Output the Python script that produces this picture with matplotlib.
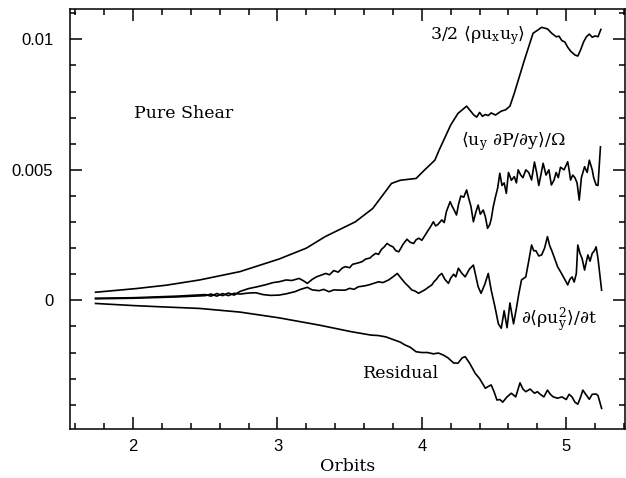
import matplotlib
matplotlib.use("Agg")
import matplotlib.pyplot as plt
from matplotlib.ticker import MultipleLocator

plt.rcParams['mathtext.fontset'] = 'custom'
plt.rcParams['mathtext.rm'] = 'DejaVu Serif'
plt.rcParams['mathtext.default'] = 'regular'
plt.rcParams['font.family'] = 'DejaVu Serif'

# 3/2 <rho ux uy>
stress_t = [1.74, 2.02, 2.23, 2.46, 2.74, 3.01, 3.2, 3.33, 3.54, 3.66, 3.79, 3.85,
            3.96, 4.02, 4.09, 4.12, 4.2, 4.25, 4.31, 4.36, 4.38, 4.4, 4.42, 4.44,
            4.46, 4.48, 4.51, 4.55, 4.58, 4.61, 4.64, 4.71, 4.77, 4.83, 4.87, 4.9,
            4.93, 4.95, 4.97, 4.99, 5.01, 5.03, 5.06, 5.08, 5.1, 5.12, 5.14, 5.16,
            5.18, 5.2, 5.22, 5.24]
stress = [0.00031, 0.00045, 0.00058, 0.00078, 0.0011, 0.00158, 0.002, 0.00244,
          0.00301, 0.00352, 0.00448, 0.0046, 0.00467, 0.005, 0.00537, 0.00576,
          0.00672, 0.00716, 0.00744, 0.0071, 0.00702, 0.0072, 0.00705, 0.00712,
          0.00708, 0.00718, 0.0071, 0.00725, 0.0073, 0.00744, 0.00793, 0.0092,
          0.01023, 0.01046, 0.0104, 0.01023, 0.0101, 0.01012, 0.00995, 0.0099,
          0.0097, 0.00955, 0.0094, 0.00936, 0.0096, 0.0099, 0.0101, 0.0102,
          0.01008, 0.01013, 0.0101, 0.01038]

# <uy dP/dy>/Omega
press_t = [1.74, 2.0, 2.3, 2.5, 2.54, 2.58, 2.62, 2.66, 2.7, 2.74, 2.8, 2.86,
           2.92, 2.97, 3.01, 3.06, 3.1, 3.15, 3.18, 3.207, 3.24, 3.27, 3.3, 3.334,
           3.36, 3.39, 3.42, 3.45, 3.47, 3.5, 3.52, 3.55, 3.586, 3.61, 3.64, 3.66,
           3.68, 3.7, 3.72, 3.74, 3.759, 3.78, 3.8, 3.82, 3.84, 3.86, 3.87, 3.897,
           3.92, 3.943, 3.96, 3.98, 4.0, 4.023, 4.04, 4.06, 4.08, 4.095, 4.11,
           4.138, 4.155, 4.17, 4.196, 4.21, 4.22, 4.24, 4.255, 4.27, 4.29, 4.31,
           4.325, 4.34, 4.357, 4.375, 4.39, 4.405, 4.425, 4.44, 4.455, 4.47, 4.48,
           4.495, 4.51, 4.525, 4.54, 4.555, 4.57, 4.585, 4.6, 4.62, 4.64, 4.655,
           4.667, 4.685, 4.7, 4.72, 4.74, 4.76, 4.78, 4.795, 4.81, 4.84, 4.86,
           4.88, 4.897, 4.915, 4.93, 4.945, 4.96, 4.985, 5.01, 5.02, 5.03, 5.045,
           5.06, 5.075, 5.09, 5.105, 5.127, 5.145, 5.16, 5.18, 5.19, 5.207, 5.22,
           5.237]
press = [0.00008, 0.0001, 0.00016, 0.00022, 0.00016, 0.00026, 0.00018, 0.00028,
         0.0002, 0.00034, 0.00045, 0.00052, 0.0006, 0.00068, 0.00071, 0.00078,
         0.00076, 0.00084, 0.00075, 0.00065, 0.0008, 0.0009, 0.00096, 0.00103,
         0.00098, 0.00114, 0.00108, 0.00124, 0.00129, 0.00125, 0.00138, 0.00142,
         0.00148, 0.00158, 0.00162, 0.00172, 0.0018, 0.00176, 0.00195, 0.00205,
         0.00218, 0.0021, 0.00205, 0.0019, 0.00186, 0.00205, 0.00215, 0.00234,
         0.00222, 0.00218, 0.00232, 0.00238, 0.0023, 0.0025, 0.00265, 0.00282,
         0.00301, 0.00285, 0.0029, 0.00308, 0.00298, 0.0034, 0.00378, 0.0036,
         0.0035, 0.00327, 0.0037, 0.004, 0.00395, 0.00423, 0.0039, 0.0036,
         0.00301, 0.0034, 0.00365, 0.0033, 0.00346, 0.0032, 0.00276, 0.0029,
         0.0031, 0.0036, 0.00397, 0.0043, 0.00487, 0.0044, 0.0045, 0.0041,
         0.0049, 0.0046, 0.00474, 0.0045, 0.005, 0.0048, 0.0047, 0.005, 0.0049,
         0.00461, 0.0053, 0.0049, 0.0044, 0.00525, 0.0048, 0.005, 0.00442,
         0.0046, 0.0049, 0.0047, 0.0051, 0.005, 0.00531, 0.005, 0.00461, 0.0048,
         0.0047, 0.0045, 0.00384, 0.0047, 0.00512, 0.0049, 0.00537, 0.005,
         0.0047, 0.00442, 0.0044, 0.00588]

# d<rho uy^2>/dt
kin_t = [1.74, 2.0, 2.3, 2.5, 2.54, 2.58, 2.62, 2.66, 2.7, 2.74, 2.8, 2.85,
         2.9, 2.95, 3.01, 3.06, 3.12, 3.16, 3.207, 3.24, 3.29, 3.32, 3.357, 3.39,
         3.43, 3.47, 3.5, 3.53, 3.56, 3.6, 3.632, 3.66, 3.7, 3.73, 3.77, 3.8,
         3.83, 3.86, 3.886, 3.91, 3.93, 3.955, 3.977, 4.0, 4.02, 4.045, 4.069,
         4.085, 4.1, 4.12, 4.138, 4.16, 4.184, 4.2, 4.22, 4.235, 4.253, 4.275,
         4.3, 4.33, 4.357, 4.375, 4.39, 4.41, 4.435, 4.46, 4.48, 4.506, 4.53,
         4.55, 4.57, 4.59, 4.61, 4.635, 4.655, 4.67, 4.69, 4.72, 4.74, 4.76,
         4.775, 4.79, 4.81, 4.83, 4.85, 4.87, 4.885, 4.9, 4.92, 4.94, 4.96, 4.98,
         5.0, 5.01, 5.025, 5.04, 5.055, 5.07, 5.08, 5.095, 5.11, 5.127, 5.14,
         5.15, 5.165, 5.18, 5.195, 5.207, 5.22, 5.245]
kin = [0.00006, 0.00008, 0.00013, 0.00018, 0.00024, 0.00016, 0.00026, 0.00018,
       0.00027, 0.00024, 0.00028, 0.00029, 0.00022, 0.00019, 0.0002, 0.00025,
       0.00033, 0.00042, 0.0005, 0.0004, 0.00037, 0.00042, 0.00033, 0.0004,
       0.00039, 0.00039, 0.00046, 0.00042, 0.00052, 0.00055, 0.00059, 0.00064,
       0.00071, 0.00068, 0.00078, 0.0009, 0.00103, 0.00082, 0.00065, 0.00052,
       0.0004, 0.00035, 0.00027, 0.00034, 0.0004, 0.0005, 0.00059, 0.00072,
       0.0008, 0.00095, 0.00103, 0.0008, 0.00065, 0.00085, 0.001, 0.0009,
       0.00123, 0.00105, 0.0009, 0.0012, 0.00135, 0.0009, 0.00052, 0.00027,
       0.0006, 0.00103, 0.0004, -0.00024, -0.0009, -0.00107, -0.0004, -0.00105,
       -0.0001, -0.0009, -0.0003, 0.0002, 0.00078, 0.0009, 0.0015, 0.00212,
       0.0019, 0.0019, 0.0017, 0.00174, 0.002, 0.00244, 0.0021, 0.0019, 0.0016,
       0.00129, 0.0011, 0.0009, 0.0007, 0.00059, 0.0008, 0.0009, 0.0007,
       0.00103, 0.00212, 0.0018, 0.0016, 0.00116, 0.0015, 0.00174, 0.0015,
       0.0018, 0.0019, 0.00205, 0.0016, 0.00039]

# residual
resid_t = [1.74, 2.0, 2.2, 2.46, 2.74, 3.01, 3.29, 3.51, 3.646, 3.7, 3.75, 3.81,
           3.85, 3.88, 3.92, 3.96, 4.0, 4.04, 4.08, 4.115, 4.15, 4.18, 4.22, 4.25,
           4.28, 4.3, 4.33, 4.37, 4.4, 4.44, 4.46, 4.48, 4.5, 4.52, 4.54, 4.56,
           4.59, 4.62, 4.65, 4.68, 4.7, 4.72, 4.75, 4.78, 4.8, 4.82, 4.845, 4.87,
           4.89, 4.91, 4.94, 4.97, 5.0, 5.02, 5.04, 5.06, 5.08, 5.1, 5.115, 5.135,
           5.16, 5.18, 5.207, 5.22, 5.245]
resid = [-0.00012, -0.0002, -0.00025, -0.00031, -0.00045, -0.00067, -0.00095,
         -0.0012, -0.00133, -0.00135, -0.0014, -0.00152, -0.0016, -0.0017,
         -0.0018, -0.00197, -0.002, -0.002, -0.00205, -0.00202, -0.0021, -0.0022,
         -0.0024, -0.00241, -0.0022, -0.00216, -0.0024, -0.0028, -0.003, -0.00337,
         -0.0033, -0.00324, -0.0035, -0.00382, -0.0038, -0.0039, -0.0037,
         -0.00356, -0.0037, -0.00316, -0.0034, -0.0035, -0.0034, -0.00356,
         -0.0035, -0.0036, -0.0037, -0.00344, -0.0036, -0.0037, -0.00375,
         -0.0037, -0.0038, -0.0036, -0.0037, -0.0039, -0.00398, -0.0037,
         -0.00344, -0.0036, -0.00379, -0.0036, -0.00359, -0.00365, -0.00414]

fig = plt.figure(figsize=(6.26, 4.78), dpi=100)
ax = fig.add_axes([0.1118, 0.1025, 0.8866, 0.878])

for t, v in [(stress_t, stress), (press_t, press), (kin_t, kin), (resid_t, resid)]:
    ax.plot(t, v, color='black', linewidth=1.2)

ax.set_xlim(1.563, 5.407)
ax.set_ylim(-0.00493, 0.01115)

ax.xaxis.set_major_locator(MultipleLocator(1))
ax.xaxis.set_minor_locator(MultipleLocator(0.2))
ax.set_yticks([0, 0.005, 0.01])
ax.set_yticklabels(['0', '0.005', '0.01'])
ax.yaxis.set_minor_locator(MultipleLocator(0.001))
ax.tick_params(which='both', direction='in', top=True, right=True, width=1.1)
ax.tick_params(which='major', length=8.4)
ax.tick_params(which='minor', length=4.3)
ax.tick_params(axis='y', pad=12)
ax.tick_params(axis='x', pad=7)
for lab in ax.get_xticklabels() + ax.get_yticklabels():
    lab.set_family('Liberation Sans')
    lab.set_fontsize(12)
for s in ax.spines.values():
    s.set_linewidth(1.1)

ax.set_xlabel('Orbits', fontsize=12.5, labelpad=3)

ax.text(2.005, 0.00716, 'Pure Shear', fontsize=12.5, va='center', ha='left')
ax.text(4.715, 0.01016, r'3/2 $\langle\rho u_x u_y\rangle$', fontsize=12.5,
        va='center', ha='right')
ax.text(4.274, 0.0061, r'$\langle u_y\ \partial P/\partial y\rangle/\Omega$',
        fontsize=12.5, va='center', ha='left')
ax.text(4.69, -0.00075, r'$\partial\langle\rho u_y^2\rangle/\partial t$',
        fontsize=12.5, va='center', ha='left')
ax.text(3.59, -0.00282, 'Residual', fontsize=12.5, va='center', ha='left')

fig.savefig('out.png', dpi=100)
